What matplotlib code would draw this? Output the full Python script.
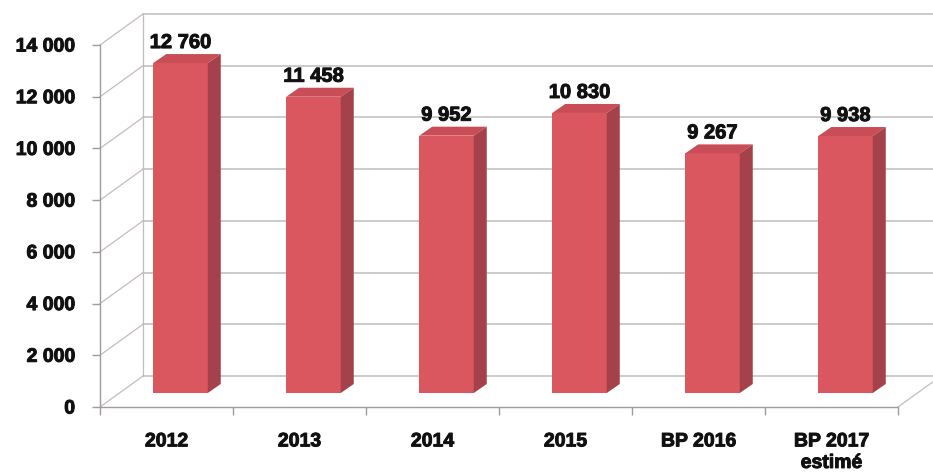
import numpy as np
import matplotlib.pyplot as plt
from matplotlib.patches import Polygon
import matplotlib.patheffects as pe

plt.rcParams['font.family'] = ['Liberation Sans', 'DejaVu Sans']

categories = ['2012', '2013', '2014', '2015', 'BP 2016', 'BP 2017\nestimé']
values = [12760, 11458, 9952, 10830, 9267, 9938]
yticks = [0, 2000, 4000, 6000, 8000, 10000, 12000, 14000]

FIG_W, FIG_H = 933, 476
AX_L, AX_B, AX_W, AX_H = 100, 69, 798, 362
YMAX = 14000

fig = plt.figure(figsize=(FIG_W / 100, FIG_H / 100), dpi=100)
ax = fig.add_axes([AX_L / FIG_W, AX_B / FIG_H, AX_W / FIG_W, AX_H / FIG_H])
ax.set_xlim(-0.5, len(categories) - 0.5)
ax.set_ylim(0, YMAX)

# pixel -> data conversion (linear scales)
sx = len(categories) / AX_W
sy = YMAX / AX_H

# 3D geometry, in pixels
bar_off = (14, 14)     # bar plane behind the front axis
depth = (13, 9)        # bar thickness
wall = (43, 31)        # back wall behind the front axis

grid_c = '#bdbdbd'
wall_c = '#c4bcbc'
axis_c = '#a09a9a'
bold = [pe.withStroke(linewidth=0.7, foreground='#111111')]

# back wall gridlines, left wall diagonals
wx, wy = wall[0] * sx, wall[1] * sy
for t in yticks:
    ax.plot([-0.5 + wx, 6.2], [t + wy, t + wy], color=grid_c, lw=1.1,
            clip_on=False, zorder=1)
    ax.plot([-0.5, -0.5 + wx], [t, t + wy], color=wall_c, lw=0.9,
            clip_on=False, zorder=1)
ax.plot([-0.5 + wx, -0.5 + wx], [wy, YMAX + wy], color=wall_c, lw=0.9,
        clip_on=False, zorder=1)
# floor right edge
ax.plot([5.5, 5.5 + wx], [0, wy], color=wall_c, lw=0.9, clip_on=False, zorder=1)

x = np.arange(len(categories))
bw = 0.41
bx, by = bar_off[0] * sx, bar_off[1] * sy
dx, dy = depth[0] * sx, depth[1] * sy

ax.bar(x + bx, values, width=bw, bottom=by, color='#db5760', zorder=3,
       clip_on=False)
for xi, v in zip(x, values):
    x0 = xi + bx - bw / 2
    x1 = xi + bx + bw / 2
    top = v + by
    ax.add_patch(Polygon([(x0, top), (x1, top), (x1 + dx, top + dy),
                          (x0 + dx, top + dy)], closed=True,
                         facecolor='#c94d56', edgecolor='none', zorder=3,
                         clip_on=False))
    ax.add_patch(Polygon([(x1, by), (x1 + dx, by + dy), (x1 + dx, top + dy),
                          (x1, top)], closed=True,
                         facecolor='#a5414a', edgecolor='none', zorder=3,
                         clip_on=False))
    ax.text(xi + bx, top + dy + 2 * sy, f'{v:,}'.replace(',', ' '),
            ha='center', va='bottom', fontsize=14.5, fontweight='bold',
            color='#111111', zorder=5, path_effects=bold)

# axes styling
for side in ['top', 'right']:
    ax.spines[side].set_visible(False)
for side in ['left', 'bottom']:
    ax.spines[side].set_color(axis_c)
    ax.spines[side].set_linewidth(1.0)

ax.set_yticks(yticks)
ax.set_yticklabels([f'{t:,}'.replace(',', ' ') for t in yticks])
ax.tick_params(axis='y', length=6, width=1, color=axis_c, pad=12,
               labelsize=14)
ax.set_xticks(x)
ax.set_xticklabels(categories, multialignment='center', linespacing=1.35)
ax.set_xticks(np.arange(-0.5, len(categories)), minor=True)
ax.tick_params(axis='x', which='major', length=0, pad=19, labelsize=14)
ax.tick_params(axis='x', which='minor', length=6, width=1, color=axis_c)
for lbl in ax.get_xticklabels() + ax.get_yticklabels():
    lbl.set_fontweight('bold')
    lbl.set_color('#111111')
    lbl.set_path_effects(bold)

fig.savefig('out.png', dpi=100)
